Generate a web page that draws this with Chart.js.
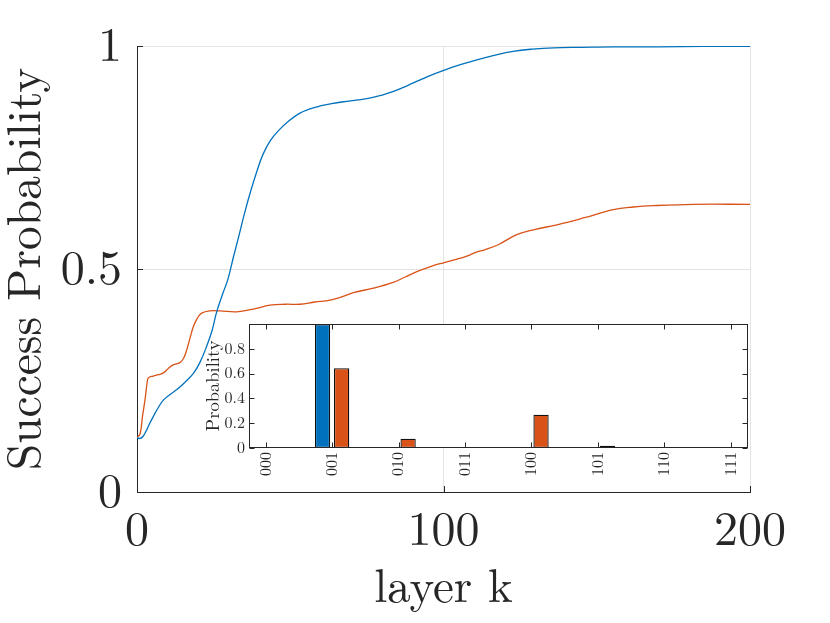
<!DOCTYPE html>
<html><head><meta charset="utf-8">
<script src="https://cdn.jsdelivr.net/npm/chart.js@4.4.1/dist/chart.umd.min.js"></script>
<style>
html,body{margin:0;padding:0;background:#fff;}
#wrap{position:relative;width:830px;height:623px;overflow:hidden;}
#main{position:absolute;left:0;top:0;}
#inset{position:absolute;left:195px;top:310px;}
</style></head><body>
<div id="wrap">
<canvas id="main" width="830" height="623"></canvas>
<canvas id="inset" width="560" height="190"></canvas>
</div>
<script>
// ---- main chart data ----
const blueK = [0,1,2,3,4,5.3,7,8.6,10.5,12.9,15.5,18.4,20.5,22.7,24.5,26,28,29.7,31.5,33.2,35.2,37.2,39.2,41.1,43.5,46.4,49.5,53,56,59.5,63,67.4,72,76.6,80,83.2,86.5,89.8,95,100.3,105.5,110.9,116.5,122.7,129,135.9,145,155.6,170,185,200];
const blueP = [0.122,0.12,0.125,0.137,0.152,0.169,0.19,0.206,0.217,0.229,0.245,0.266,0.29,0.326,0.362,0.404,0.445,0.478,0.528,0.573,0.628,0.677,0.721,0.757,0.788,0.812,0.832,0.849,0.858,0.865,0.87,0.875,0.879,0.884,0.89,0.897,0.906,0.916,0.932,0.946,0.958,0.969,0.979,0.988,0.993,0.996,0.997,0.998,0.998,0.999,0.999];
const orangeK = [0,1,1.8,2.6,3.3,3.7,5.3,7,8.6,10.2,11.8,14,15.2,16.2,17.3,18.4,19.7,21.1,23.8,27.1,32.5,37.9,43.4,48.5,53.2,58,63,67,70.6,77.1,83.6,87.5,91.3,96,100,103.8,107.6,110.8,113.5,118,123.9,130,137,146,155.4,162,168.5,181.6,200];
const orangeP = [0.122,0.13,0.17,0.206,0.245,0.256,0.26,0.263,0.267,0.277,0.285,0.29,0.3,0.318,0.345,0.371,0.39,0.401,0.406,0.406,0.404,0.41,0.419,0.421,0.421,0.426,0.43,0.438,0.447,0.457,0.47,0.482,0.494,0.506,0.514,0.521,0.529,0.538,0.543,0.555,0.577,0.589,0.599,0.615,0.633,0.639,0.642,0.645,0.645];
const xTicksMain = [0,100,200];
const yTicksMain = [0,0.5,1];

// ---- inset data ----
const states = ['000','001','010','011','100','101','110','111'];
const probBlue = [0,0.999,0,0,0,0,0,0];
const probOrange = [0,0.644,0.075,0,0.268,0.018,0,0];
const insetYTicks = [0,0.2,0.4,0.6,0.8];

const FONT = '"Latin Modern Roman", "Liberation Serif", serif';
const INK = '#262626';
const BLUE = '#0072BD';
const ORANGE = '#D95319';

const mainTicks = {
  id:'mainTicks',
  afterDraw(chart){
    const {ctx, chartArea:a, scales:{x,y}} = chart;
    ctx.save(); ctx.strokeStyle = INK; ctx.lineWidth = 1;
    ctx.beginPath();
    xTicksMain.forEach(v=>{const p=Math.round(x.getPixelForValue(v))+0.5; ctx.moveTo(p,a.bottom); ctx.lineTo(p,a.bottom-6);});
    yTicksMain.forEach(v=>{const p=Math.round(y.getPixelForValue(v))+0.5; ctx.moveTo(a.left,p); ctx.lineTo(a.left+6,p);});
    ctx.stroke(); ctx.restore();
  }
};

new Chart(document.getElementById('main'), {
  type:'line',
  data:{datasets:[
    {data: blueK.map((k,i)=>({x:k,y:blueP[i]})), borderColor:BLUE, borderWidth:1.3, pointRadius:0, tension:0.4, fill:false},
    {data: orangeK.map((k,i)=>({x:k,y:orangeP[i]})), borderColor:ORANGE, borderWidth:1.3, pointRadius:0, tension:0.4, fill:false}
  ]},
  options:{
    responsive:false, animation:false,
    layout:{padding:{left:0,top:46,right:80,bottom:0}},
    plugins:{legend:{display:false}, tooltip:{enabled:false}},
    scales:{
      x:{type:'linear', min:0, max:200,
        afterBuildTicks: s=>{ s.ticks = xTicksMain.map(v=>({value:v})); },
        afterFit: s=>{ s.height = 131; },
        grid:{color:'#e3e3e3', lineWidth:1, drawTicks:false},
        border:{display:true, color:INK, width:1},
        ticks:{callback:v=>String(v), font:{family:FONT,size:48}, color:INK, padding:10, maxRotation:0, autoSkip:false},
        title:{display:true, text:'layer k', font:{family:FONT,size:47,lineHeight:1}, color:INK, padding:{top:0,bottom:12}}
      },
      y:{type:'linear', min:0, max:1,
        afterBuildTicks: s=>{ s.ticks = yTicksMain.map(v=>({value:v})); },
        afterFit: s=>{ s.width = 137; },
        grid:{color:'#e3e3e3', lineWidth:1, drawTicks:false},
        border:{display:true, color:INK, width:1},
        ticks:{callback:v=>String(v), font:{family:FONT,size:48}, color:INK, padding:15},
        title:{display:true, text:'Success Probability', font:{family:FONT,size:47.5,lineHeight:1}, color:INK, padding:{top:2,bottom:0}}
      }
    }
  },
  plugins:[mainTicks]
});

const insetBox = {
  id:'insetBox',
  beforeDraw(chart){
    const {ctx, chartArea:a} = chart;
    ctx.save(); ctx.fillStyle = '#fff'; ctx.fillRect(a.left,a.top,a.right-a.left,a.bottom-a.top); ctx.restore();
  },
  afterDraw(chart){
    const {ctx, chartArea:a, scales:{x,y}} = chart;
    ctx.save(); ctx.strokeStyle = INK; ctx.lineWidth = 1;
    const L=Math.round(a.left)+0.5, R=Math.round(a.right)-0.5, T=Math.round(a.top)+0.5, B=Math.round(a.bottom)-0.5;
    ctx.strokeRect(L,T,R-L,B-T);
    ctx.beginPath();
    states.forEach((s,i)=>{const p=Math.round(x.getPixelForValue(i))+0.5; ctx.moveTo(p,B); ctx.lineTo(p,B-5); ctx.moveTo(p,T); ctx.lineTo(p,T+5);});
    insetYTicks.forEach(v=>{const p=Math.round(y.getPixelForValue(v))+0.5; ctx.moveTo(L,p); ctx.lineTo(L+5,p); ctx.moveTo(R,p); ctx.lineTo(R-5,p);});
    ctx.stroke(); ctx.restore();
  }
};

new Chart(document.getElementById('inset'), {
  type:'bar',
  data:{datasets:[
    {data: states.map((s,i)=>({x:i,y:probBlue[i]})), backgroundColor:BLUE, borderColor:'#111', borderWidth:1.3, borderSkipped:false, categoryPercentage:0.575, barPercentage:0.8},
    {data: states.map((s,i)=>({x:i,y:probOrange[i]})), backgroundColor:ORANGE, borderColor:'#111', borderWidth:1.3, borderSkipped:false, categoryPercentage:0.575, barPercentage:0.8}
  ]},
  options:{
    responsive:false, animation:false,
    layout:{padding:{left:0,top:14,right:7.5,bottom:0}},
    plugins:{legend:{display:false}, tooltip:{enabled:false}},
    scales:{
      x:{type:'linear', min:-0.25, max:7.25, offset:false,
        afterBuildTicks: s=>{ s.ticks = states.map((_,i)=>({value:i})); },
        afterFit: s=>{ s.height = 52; },
        grid:{display:false, drawTicks:false, offset:false},
        border:{display:false},
        ticks:{callback:(v)=>states[v], font:{family:FONT,size:16}, color:INK, minRotation:90, maxRotation:90, autoSkip:false, padding:4}
      },
      y:{type:'linear', min:0, max:1,
        afterBuildTicks: s=>{ s.ticks = insetYTicks.map(v=>({value:v})); },
        afterFit: s=>{ s.width = 54; },
        grid:{display:false, drawTicks:false},
        border:{display:false},
        ticks:{callback:(v)=> v===0 ? '0' : v.toFixed(1), font:{family:FONT,size:16}, color:INK, padding:4},
        title:{display:true, text:'Probability', font:{family:FONT,size:18.5,lineHeight:1}, color:INK, padding:{top:9,bottom:0}}
      }
    }
  },
  plugins:[insetBox]
});
</script>
</body></html>
